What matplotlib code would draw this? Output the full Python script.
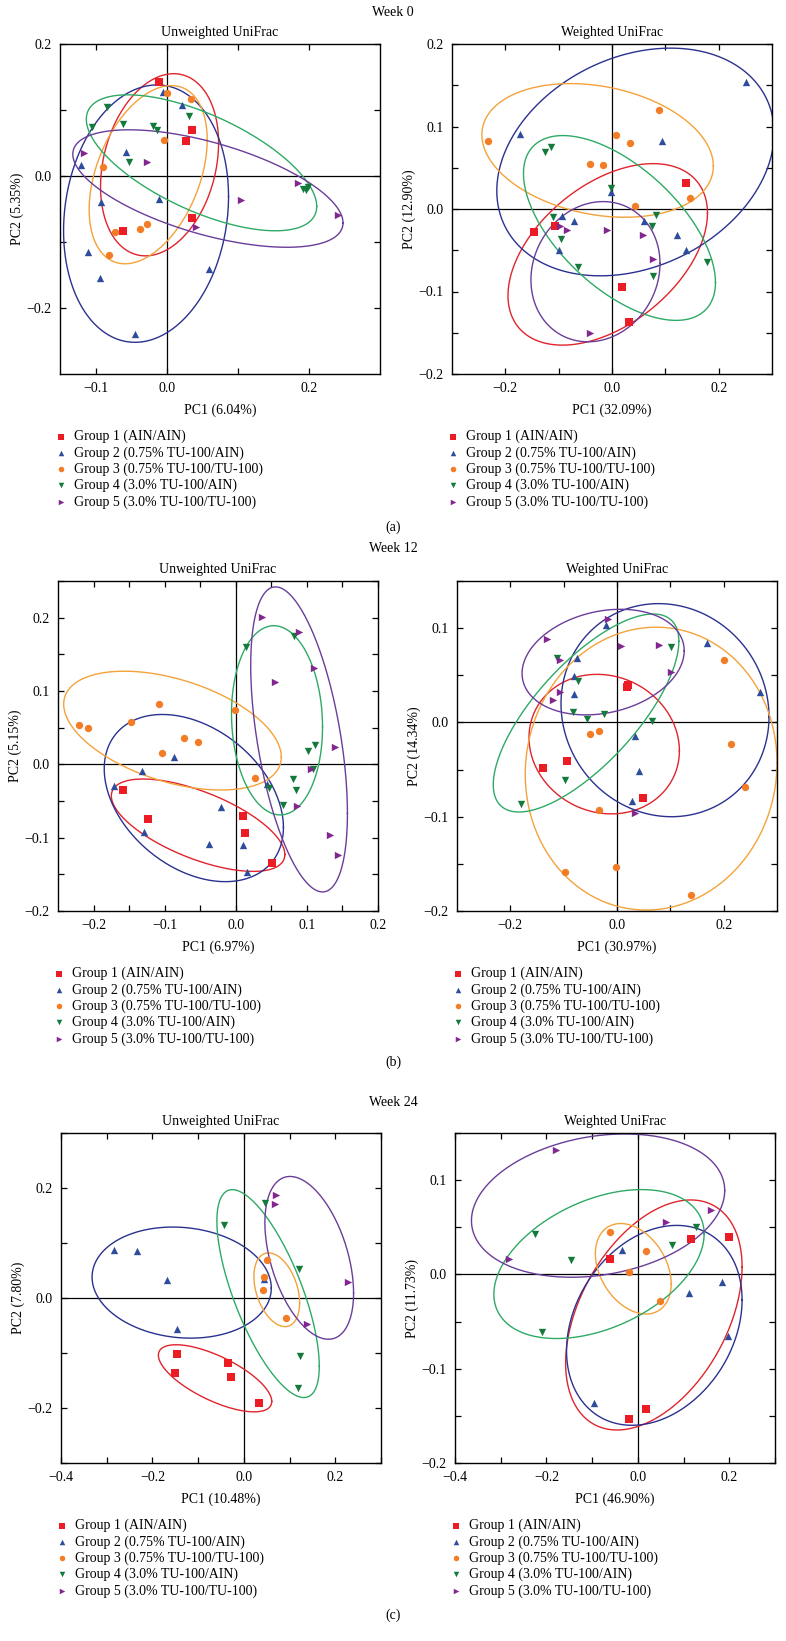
import numpy as np
import matplotlib.pyplot as plt

plt.rcParams['font.family'] = ['Liberation Serif', 'DejaVu Serif']
plt.rcParams['font.size'] = 10

# groups / labels
groups = ['Group 1 (AIN/AIN)', 'Group 2 (0.75% TU-100/AIN)', 'Group 3 (0.75% TU-100/TU-100)',
          'Group 4 (3.0% TU-100/AIN)', 'Group 5 (3.0% TU-100/TU-100)']
weeks = ['Week 0', 'Week 12', 'Week 24']
letters = ['(a)', '(b)', '(c)']
metrics = ['Unweighted UniFrac', 'Weighted UniFrac']
pc1_pct = [['6.04%', '32.09%'], ['6.97%', '30.97%'], ['10.48%', '46.90%']]
pc2_pct = [['5.35%', '12.90%'], ['5.15%', '14.34%'], ['7.80%', '11.73%']]

# ---- week 0, unweighted
w0_unw_x = [[-0.011, 0.036, 0.027, 0.036, -0.061],
            [-0.005, 0.021, -0.057, -0.121, -0.092, -0.011, -0.110, -0.094, 0.060, -0.044],
            [0.001, 0.034, -0.004, -0.090, -0.028, -0.037, -0.073, -0.081],
            [-0.084, 0.032, -0.105, -0.062, -0.019, -0.013, -0.053, 0.192, 0.199, 0.196],
            [-0.116, -0.027, 0.184, 0.104, 0.241, 0.041]]
w0_unw_y = [[0.142, 0.070, 0.053, -0.064, -0.083],
            [0.128, 0.107, 0.036, 0.017, -0.039, -0.035, -0.115, -0.155, -0.141, -0.240],
            [0.126, 0.117, 0.055, 0.014, -0.073, -0.081, -0.085, -0.119],
            [0.105, 0.091, 0.074, 0.079, 0.076, 0.069, 0.021, -0.019, -0.017, -0.021],
            [0.035, 0.021, -0.010, -0.036, -0.059, -0.078]]
# ellipse: centre x, centre y, half width, half height, y offset of right-most point
w0_unw_ell = [(-0.010, 0.017, 0.083, 0.138, 0.033),
              (-0.029, -0.057, 0.116, 0.195, 0.026),
              (-0.026, 0.002, 0.083, 0.135, 0.053),
              (0.049, 0.020, 0.162, 0.103, -0.066),
              (0.058, -0.019, 0.190, 0.089, -0.052)]

# ---- week 0, weighted
w0_w_x = [[0.138, -0.147, -0.106, 0.019, 0.032],
          [0.252, -0.173, 0.093, -0.001, -0.093, -0.071, -0.100, 0.060, 0.121, 0.139],
          [-0.232, 0.089, 0.007, 0.033, -0.041, -0.017, 0.147, 0.044],
          [-0.126, -0.115, -0.001, -0.110, -0.095, -0.063, 0.083, 0.075, 0.077, 0.178],
          [-0.098, -0.084, -0.009, 0.059, 0.076, -0.041]]
w0_w_y = [[0.032, -0.028, -0.021, -0.094, -0.137],
          [0.154, 0.091, 0.082, 0.021, -0.008, -0.015, -0.050, -0.015, -0.032, -0.050],
          [0.082, 0.120, 0.090, 0.080, 0.055, 0.053, 0.013, 0.004],
          [0.069, 0.075, 0.025, -0.010, -0.036, -0.070, -0.007, -0.021, -0.081, -0.064],
          [-0.021, -0.026, -0.026, -0.031, -0.060, -0.150]]
w0_w_ell = [(-0.008, -0.055, 0.187, 0.110, 0.050),
            (0.044, 0.057, 0.260, 0.138, 0.035),
            (-0.027, 0.071, 0.217, 0.081, -0.019),
            (0.014, -0.023, 0.180, 0.112, -0.066),
            (-0.031, -0.076, 0.121, 0.085, 0.010)]

# ---- week 12, unweighted
w12_unw_x = [[-0.158, -0.123, 0.010, 0.013, 0.051],
             [-0.087, -0.132, -0.171, -0.129, -0.021, -0.037, 0.010, 0.016, 0.044],
             [-0.221, -0.208, -0.147, -0.108, -0.073, -0.053, -0.104, -0.001, 0.027],
             [0.014, 0.082, 0.102, 0.111, 0.109, 0.080, 0.085, 0.047, 0.067],
             [0.037, 0.089, 0.110, 0.055, 0.140, 0.106, 0.086, 0.133, 0.144]]
w12_unw_y = [[-0.035, -0.075, -0.071, -0.093, -0.134],
             [0.010, -0.009, -0.029, -0.092, -0.058, -0.109, -0.110, -0.147, -0.027],
             [0.054, 0.049, 0.058, 0.082, 0.036, 0.030, 0.016, 0.074, -0.018],
             [0.160, 0.175, 0.018, 0.026, -0.006, -0.020, -0.035, -0.032, -0.055],
             [0.201, 0.181, 0.132, 0.112, 0.024, -0.007, -0.057, -0.096, -0.123]]
w12_unw_ell = [(-0.053, -0.083, 0.122, 0.063, -0.040),
               (-0.059, -0.046, 0.126, 0.114, -0.040),
               (-0.089, 0.046, 0.153, 0.081, -0.036),
               (0.058, 0.060, 0.064, 0.129, -0.009),
               (0.089, 0.034, 0.068, 0.208, -0.101)]

# ---- week 12, weighted
w12_w_x = [[0.018, 0.021, -0.094, -0.139, 0.049],
           [-0.020, -0.075, -0.081, -0.080, 0.169, 0.269, 0.034, 0.041, 0.028],
           [0.201, -0.051, -0.034, 0.213, 0.240, -0.033, -0.097, -0.001, 0.138],
           [-0.113, -0.074, -0.083, -0.056, -0.024, 0.066, 0.102, -0.098, -0.180],
           [-0.132, -0.107, -0.106, -0.120, -0.016, 0.008, 0.079, 0.101, 0.034]]
w12_w_y = [[0.038, 0.040, -0.041, -0.048, -0.080],
           [0.103, 0.068, 0.049, 0.030, 0.084, 0.032, -0.014, -0.052, -0.083],
           [0.066, -0.012, -0.009, -0.023, -0.069, -0.093, -0.159, -0.153, -0.183],
           [0.068, 0.044, 0.011, 0.004, 0.009, 0.001, 0.080, -0.061, -0.086],
           [0.088, 0.066, 0.032, 0.024, 0.110, 0.081, 0.082, 0.053, -0.096]]
w12_w_ell = [(-0.024, -0.023, 0.141, 0.074, -0.007),
             (0.090, 0.013, 0.195, 0.113, -0.007),
             (0.064, -0.049, 0.236, 0.150, 0.006),
             (-0.058, 0.010, 0.174, 0.105, 0.076),
             (-0.026, 0.064, 0.152, 0.056, 0.012)]

# ---- week 24, unweighted
w24_unw_x = [[-0.146, -0.034, -0.150, -0.029, 0.033],
             [-0.285, -0.234, -0.168, -0.147, 0.044],
             [0.050, 0.045, 0.042, 0.092],
             [-0.044, 0.047, 0.121, 0.123, 0.119],
             [0.071, 0.069, 0.227, 0.138]]
w24_unw_y = [[-0.101, -0.118, -0.137, -0.144, -0.190],
             [0.087, 0.086, 0.032, -0.056, 0.035],
             [0.069, 0.039, 0.014, -0.037],
             [0.132, 0.172, 0.053, -0.106, -0.164],
             [0.187, 0.171, 0.030, -0.047]]
w24_unw_ell = [(-0.063, -0.146, 0.124, 0.061, -0.042),
               (-0.136, 0.028, 0.196, 0.101, -0.010),
               (0.072, 0.015, 0.050, 0.067, -0.024),
               (0.053, 0.008, 0.112, 0.189, -0.132),
               (0.143, 0.073, 0.097, 0.148, -0.064)]

# ---- week 24, weighted
w24_w_x = [[-0.060, 0.116, 0.200, -0.020, 0.018],
           [-0.035, 0.111, 0.185, 0.197, -0.095],
           [-0.061, 0.018, -0.019, 0.049],
           [-0.224, -0.146, 0.074, 0.127, -0.209],
           [-0.180, -0.281, 0.061, 0.159]]
w24_w_y = [[0.016, 0.038, 0.040, -0.153, -0.143],
           [0.026, -0.020, -0.008, -0.065, -0.136],
           [0.045, 0.025, 0.003, -0.028],
           [0.043, 0.015, 0.031, 0.050, -0.061],
           [0.132, 0.016, 0.056, 0.068]]
w24_w_ell = [(0.035, -0.043, 0.193, 0.122, 0.051),
             (0.036, -0.054, 0.192, 0.106, 0.027),
             (-0.010, 0.006, 0.083, 0.048, -0.016),
             (-0.085, 0.011, 0.230, 0.079, 0.032),
             (-0.087, 0.073, 0.277, 0.076, 0.016)]

markers = ['s', '^', 'o', 'v', '>']
mcolors = ['#ec1c24', '#2e4c9c', '#f27d26', '#147a3c', '#82278f']
ecolors = ['#e0242c', '#2b318f', '#f4a23a', '#2eaa64', '#6b3d9a']

W, H = 786, 1641
fig = plt.figure(figsize=(W / 100, H / 100), dpi=100)


def fmt(v):
    s = '%.1f' % abs(v)
    return ('\u2212' + s) if v < -1e-9 else s


def tick_set(lo, hi, step, labelled):
    t = np.round(np.arange(lo, hi + step / 2, step), 3)
    labs = [fmt(v) if any(abs(v - l) < 1e-6 for l in labelled) else '' for v in t]
    return t, labs


# (xdata, ydata, ellipses, left px, top px, xlim, xticks, ylim, yticks)
panels = [
    [(w0_unw_x, w0_unw_y, w0_unw_ell, 60, 44, (-0.15, 0.3), (-0.1, 0.2, 0.1, [-0.1, 0, 0.2]),
      (-0.3, 0.2), (-0.2, 0.2, 0.1, [-0.2, 0, 0.2])),
     (w0_w_x, w0_w_y, w0_w_ell, 452, 44, (-0.3, 0.3), (-0.2, 0.2, 0.1, [-0.2, 0, 0.2]),
      (-0.2, 0.2), (-0.2, 0.2, 0.05, [-0.2, -0.1, 0, 0.1, 0.2]))],
    [(w12_unw_x, w12_unw_y, w12_unw_ell, 58, 581, (-0.25, 0.2),
      (-0.2, 0.2, 0.05, [-0.2, -0.1, 0, 0.1, 0.2]),
      (-0.2, 0.25), (-0.2, 0.25, 0.05, [-0.2, -0.1, 0, 0.1, 0.2])),
     (w12_w_x, w12_w_y, w12_w_ell, 457, 581, (-0.3, 0.3), (-0.2, 0.2, 0.1, [-0.2, 0, 0.2]),
      (-0.2, 0.15), (-0.2, 0.15, 0.05, [-0.2, -0.1, 0, 0.1]))],
    [(w24_unw_x, w24_unw_y, w24_unw_ell, 61, 1133, (-0.4, 0.3),
      (-0.4, 0.3, 0.1, [-0.4, -0.2, 0, 0.2]),
      (-0.3, 0.3), (-0.3, 0.3, 0.1, [-0.2, 0, 0.2])),
     (w24_w_x, w24_w_y, w24_w_ell, 455, 1133, (-0.4, 0.3),
      (-0.4, 0.3, 0.1, [-0.4, -0.2, 0, 0.2]),
      (-0.2, 0.15), (-0.2, 0.15, 0.05, [-0.2, -0.1, 0, 0.1]))],
]
week_y = [12, 549, 1102]
letter_y = [527, 1062, 1615]
aw, ah = 320, 330
tt = np.linspace(0, 2 * np.pi, 300)

for r in range(3):
    fig.text(0.5, 1 - week_y[r] / H, weeks[r], ha='center', va='center')
    fig.text(0.5, 1 - letter_y[r] / H, letters[r], ha='center', va='center')
    for c in range(2):
        xs, ys, ells, lpx, tpx, xlim, xt, ylim, yt = panels[r][c]
        ax = fig.add_axes([lpx / W, 1 - (tpx + ah) / H, aw / W, ah / H])
        ax.axhline(0, color='black', lw=0.9, zorder=1)
        ax.axvline(0, color='black', lw=0.9, zorder=1)
        handles = []
        for g in range(5):
            cx, cy, hw, hh, ry = ells[g]
            b = np.sqrt(hh ** 2 - ry ** 2)
            ax.plot(cx + hw * np.cos(tt), cy + ry * np.cos(tt) + b * np.sin(tt),
                    color=ecolors[g], lw=1.0, zorder=2)
            h = ax.scatter(xs[g], ys[g], marker=markers[g], s=28, color=mcolors[g],
                           linewidths=0, zorder=3, label=groups[g])
            handles.append(h)
        ax.set_xlim(*xlim)
        ax.set_ylim(*ylim)
        t, labs = tick_set(*xt)
        ax.set_xticks(t)
        ax.set_xticklabels(labs)
        t, labs = tick_set(*yt)
        ax.set_yticks(t)
        ax.set_yticklabels(labs)
        ax.tick_params(direction='in', top=True, right=True, length=4, width=0.9, pad=6,
                       labelsize=10)
        for sp in ax.spines.values():
            sp.set_linewidth(1.0)
        ax.set_title(metrics[c], fontsize=10, pad=6)
        ax.set_xlabel('PC1 (%s)' % pc1_pct[r][c], labelpad=6)
        ax.set_ylabel('PC2 (%s)' % pc2_pct[r][c], labelpad=1.5)
        leg_top = tpx + ah + 56
        ax.legend(handles=handles, loc='upper left',
                  bbox_to_anchor=((lpx - 3) / W, 1 - leg_top / H),
                  bbox_transform=fig.transFigure, frameon=False, borderpad=0,
                  borderaxespad=0, handlelength=0.6, handletextpad=0.6,
                  labelspacing=0.2, markerscale=0.75, fontsize=10)

fig.savefig('out.png', dpi=100)
